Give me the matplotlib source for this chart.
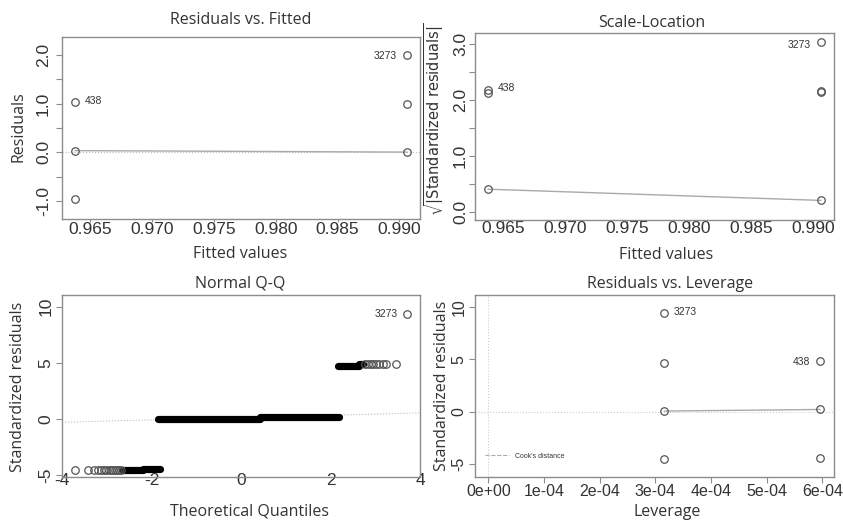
import matplotlib
matplotlib.use("Agg")
import matplotlib.pyplot as plt
from matplotlib.lines import Line2D
from matplotlib.ticker import FuncFormatter

# ---- data ----
fitted = [0.9638, 0.9638, 0.9638, 0.9906, 0.9906, 0.9906]
resid = [1.036, 0.036, -0.964, 2.0, 1.0, 0.0]
smooth_fit_x = [0.9638, 0.9906]
smooth_fit_y = [0.035, 0.005]

sl_fitted = [0.9638, 0.9638, 0.9638, 0.9906, 0.9906, 0.9906, 0.9906]
sl_values = [2.19, 2.12, 0.41, 3.04, 2.16, 2.14, 0.21]
sl_smooth_y = [0.41, 0.21]

# Normal Q-Q: dense runs drawn as bands, sparse tail points as circles
qq_bands = [(-2.65, -2.19, -4.59), (-2.19, -1.80, -4.44), (-1.85, 0.43, 0.02),
            (0.43, 2.20, 0.21), (2.17, 2.63, 4.73), (2.63, 2.72, 4.88)]
qq_tail_x = [-3.72, -3.42, -3.28, -3.20, -3.13, -3.07, -3.01, -2.96, -2.91,
             -2.86, -2.81, -2.77, -2.73, -2.69,
             2.78, 2.84, 2.90, 2.96, 3.02, 3.09, 3.17, 3.25, 3.46, 3.72]
qq_tail_y = [-4.59] * 14 + [4.88] * 9 + [9.33]
qq_line_x = [-4.0, 4.0]
qq_line_y = [-0.30, 0.53]

leverage = [3.16e-4, 3.16e-4, 3.16e-4, 3.16e-4, 5.955e-4, 5.955e-4, 5.955e-4]
std_resid = [9.37, 4.68, 0.07, -4.55, 4.87, 0.23, -4.39]
lev_smooth_x = [3.16e-4, 5.955e-4]
lev_smooth_y = [0.05, 0.20]

W, H = 843, 522
TXT = "#333333"
FRAME = "#8c8c8c"
PT = "#555555"
plt.rcParams['font.family'] = ['Liberation Sans', 'DejaVu Sans']
plt.rcParams['axes.unicode_minus'] = False
LBL = dict(family=['Open Sans', 'DejaVu Sans'], color=TXT)


def box(l, t, r, b):
    return [l / W, 1 - b / H, (r - l) / W, (b - t) / H]


def ftext(x, y, s, size, rot=0):
    fig.text(x / W, 1 - y / H, s, ha='center', va='center', rotation=rot,
             fontsize=size, **LBL)


def style(ax, size, xpad, ypad, xlen=4, ylen=4):
    for sp in ax.spines.values():
        sp.set_color(FRAME)
        sp.set_linewidth(1.0)
    ax.tick_params(axis='x', length=xlen, pad=xpad, colors=FRAME,
                   labelcolor=TXT, labelsize=size)
    ax.tick_params(axis='y', length=ylen, pad=ypad, colors=FRAME,
                   labelcolor=TXT, labelsize=size)
    for lab in ax.get_yticklabels():
        lab.set_rotation(90)
        lab.set_va('center')


def circles(ax, x, y):
    ax.plot(x, y, 'o', ms=5.4, mfc='none', mec=PT, mew=0.9, ls='none')


def half_labels(v):
    return '%.1f' % v if abs(v - round(v)) < 1e-9 else ''


def note(ax, s, xy, dx, dy, ha):
    ax.annotate(s, xy, xytext=(dx, dy), textcoords='offset points',
                fontsize=7.5, color=TXT, va='center', ha=ha)


fig = plt.figure(figsize=(W / 100, H / 100), dpi=100)

# ---- Residuals vs. Fitted ----
ax1 = fig.add_axes(box(62, 37, 420, 219))
ax1.axhline(0, color='#bbbbbb', lw=0.8, ls=':')
ax1.plot(smooth_fit_x, smooth_fit_y, color='#aaaaaa', lw=1.0)
circles(ax1, fitted, resid)
ax1.set_xlim(0.96274, 0.99166)
ax1.set_ylim(-1.37, 2.37)
ax1.set_xticks([0.965, 0.970, 0.975, 0.980, 0.985, 0.990])
ax1.xaxis.set_major_formatter(FuncFormatter(lambda v, p: '%.3f' % v))
ax1.set_yticks([-1.0, -0.5, 0.0, 0.5, 1.0, 1.5, 2.0])
ax1.yaxis.set_major_formatter(FuncFormatter(lambda v, p: half_labels(v)))
style(ax1, 12.5, xpad=0, ypad=4, xlen=2)
note(ax1, '438', (fitted[0], resid[0]), 7, 1, 'left')
note(ax1, '3273', (fitted[3], resid[3]), -7, -1, 'right')
ftext(241, 20, 'Residuals vs. Fitted', 11.5)
ftext(240, 254, 'Fitted values', 11.5)
ftext(18, 127, 'Residuals', 11.5, rot=90)

# ---- Scale-Location ----
ax2 = fig.add_axes(box(475, 33, 834, 220))
ax2.plot(smooth_fit_x, sl_smooth_y, color='#aaaaaa', lw=1.0)
circles(ax2, sl_fitted, sl_values)
ax2.set_xlim(0.96274, 0.99166)
ax2.set_ylim(-0.14, 3.2)
ax2.set_xticks([0.965, 0.970, 0.975, 0.980, 0.985, 0.990])
ax2.xaxis.set_major_formatter(FuncFormatter(lambda v, p: '%.3f' % v))
ax2.set_yticks([0.0, 0.5, 1.0, 1.5, 2.0, 2.5, 3.0])
ax2.yaxis.set_major_formatter(FuncFormatter(lambda v, p: half_labels(v)))
style(ax2, 12.5, xpad=-1, ypad=1, xlen=2)
note(ax2, '438', (sl_fitted[0], sl_values[0]), 7, 1, 'left')
note(ax2, '3273', (sl_fitted[3], sl_values[3]), -7, -2, 'right')
ftext(652, 23, 'Scale-Location', 11.5)
ftext(666, 255, 'Fitted values', 11.5)
ftext(434, 119, r'$\sqrt{|\mathsf{Standardized\ residuals}|}$', 10.5, rot=90)

# ---- Normal Q-Q ----
ax3 = fig.add_axes(box(62, 295, 420, 477))
ax3.plot(qq_line_x, qq_line_y, color='#bbbbbb', lw=0.8, ls=':')
for x0, x1, lvl in qq_bands:
    ax3.plot([x0, x1], [lvl, lvl], color='black', lw=5.2, solid_capstyle='round')
circles(ax3, qq_tail_x, qq_tail_y)
ax3.set_xlim(-4.0, 4.0)
ax3.set_ylim(-5.18, 11.04)
ax3.set_xticks([-4, -2, 0, 2, 4])
ax3.set_yticks([-5, 0, 5, 10])
style(ax3, 12.5, xpad=-3, ypad=2, xlen=0)
note(ax3, '3273', (qq_tail_x[-1], qq_tail_y[-1]), -7, 0, 'right')
ftext(240, 283, 'Normal Q-Q', 11.5)
ftext(249, 511, 'Theoretical Quantiles', 11.5)
ftext(18, 387, 'Standardized residuals', 11.5, rot=90)

# ---- Residuals vs. Leverage ----
ax4 = fig.add_axes(box(475, 295, 834, 477))
ax4.axhline(0, color='#cccccc', lw=0.8, ls=':')
ax4.axvline(0, color='#cccccc', lw=0.8, ls=':')
ax4.plot(lev_smooth_x, lev_smooth_y, color='#aaaaaa', lw=1.0)
circles(ax4, leverage, std_resid)
ax4.set_xlim(-0.239e-4, 6.207e-4)
ax4.set_ylim(-6.24, 11.12)
ax4.set_xticks([0, 1e-4, 2e-4, 3e-4, 4e-4, 5e-4, 6e-4])
ax4.xaxis.set_major_formatter(FuncFormatter(lambda v, p: '%.0e' % v))
ax4.set_yticks([-5, 0, 5, 10])
style(ax4, 11.5, xpad=1, ypad=2, xlen=4)
note(ax4, '3273', (leverage[0], std_resid[0]), 7, 1, 'left')
note(ax4, '438', (leverage[4], std_resid[4]), -7, -1, 'right')
ax4.legend(handles=[Line2D([], [], color='#aaaaaa', ls='--', lw=0.8)],
           labels=["Cook's distance"], loc='lower left', frameon=False,
           fontsize=5, handlelength=3.5, bbox_to_anchor=(0.01, 0.06),
           labelcolor=TXT)
ftext(670, 284, 'Residuals vs. Leverage', 11.5)
ftext(667, 512, 'Leverage', 11.5)
ftext(442, 386, 'Standardized residuals', 11.5, rot=90)

fig.savefig('out.png', dpi=100)
